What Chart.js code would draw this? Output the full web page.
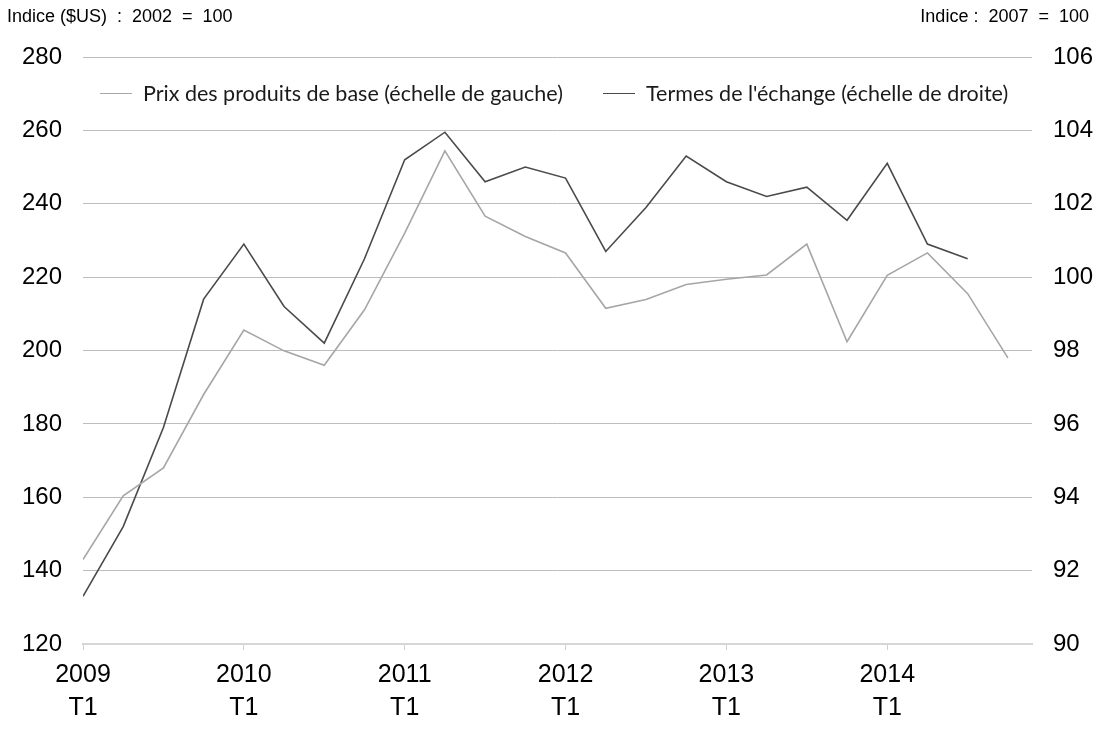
<!DOCTYPE html>
<html lang="fr">
<head>
<meta charset="utf-8">
<script src="https://cdn.jsdelivr.net/npm/chart.js@4.4.1/dist/chart.umd.min.js"></script>
<style>
    body { margin: 0; background: #ffffff; }
    #wrap { position: relative; width: 1100px; height: 733px; }
    .unit {
        position: absolute; top: 6px;
        font-family: "Liberation Sans", Arial, sans-serif;
        font-size: 18px; color: #000000; white-space: pre;
    }
    #unitLeft { left: 7px; }
    #unitRight { right: 11px; }
    .legend-item {
        position: absolute; top: 79px; height: 28px;
        display: flex; align-items: center;
        font-family: Lato, "Open Sans", sans-serif; font-size: 21.5px; color: #1a1a1a;
        white-space: nowrap;
    }
    .legend-item .swatch { width: 32px; height: 0; border-top: 1.6px solid; margin-right: 11px; }
</style>
</head>
<body>
<div id="wrap">
    <canvas id="chart" width="1100" height="733"></canvas>
    <div class="unit" id="unitLeft">Indice ($US)  :  2002  =  100</div>
    <div class="unit" id="unitRight">Indice :  2007  =  100</div>
</div>
<script>
// Quarters from 2009 T1 to 2014 T4
const quarters = [
    '2009 T1', '2009 T2', '2009 T3', '2009 T4',
    '2010 T1', '2010 T2', '2010 T3', '2010 T4',
    '2011 T1', '2011 T2', '2011 T3', '2011 T4',
    '2012 T1', '2012 T2', '2012 T3', '2012 T4',
    '2013 T1', '2013 T2', '2013 T3', '2013 T4',
    '2014 T1', '2014 T2', '2014 T3', '2014 T4'
];

// Commodity prices, left scale (index $US, 2002 = 100)
const commodityPrices = [
    143.0, 160.4, 168.0, 188.0,
    205.6, 199.9, 196.0, 211.1,
    232.0, 254.4, 236.6, 231.1,
    226.6, 211.5, 213.9, 218.0,
    219.4, 220.6, 229.0, 202.4,
    220.5, 226.6, 215.5, 198.0
];

// Terms of trade, right scale (index, 2007 = 100) - no value yet for 2014 T4
const termsOfTrade = [
    91.3, 93.2, 95.9, 99.4,
    100.9, 99.2, 98.2, 100.5,
    103.2, 103.95, 102.6, 103.0,
    102.7, 100.7, 101.9, 103.3,
    102.6, 102.2, 102.45, 101.55,
    103.1, 100.9, 100.5
];

const leftTicks = [120, 140, 160, 180, 200, 220, 240, 260, 280];
const rightTicks = [90, 92, 94, 96, 98, 100, 102, 104, 106];

const seriesLabels = [
    'Prix des produits de base (échelle de gauche)',
    "Termes de l'échange (échelle de droite)"
];
const seriesColors = ['#a6a6a6', '#4a4a4a'];

// Map a series onto the quarter index so the x axis can be linear
const toPoints = values => values.map((v, i) => ({ x: i, y: v }));

const tickFont = { family: '"Liberation Sans", Arial, sans-serif', size: 24 };

const chart = new Chart(document.getElementById('chart'), {
    type: 'line',
    data: {
        datasets: [
            {
                label: seriesLabels[0],
                data: toPoints(commodityPrices),
                borderColor: seriesColors[0],
                backgroundColor: seriesColors[0],
                borderWidth: 1.6,
                pointRadius: 0,
                tension: 0,
                yAxisID: 'y'
            },
            {
                label: seriesLabels[1],
                data: toPoints(termsOfTrade),
                borderColor: seriesColors[1],
                backgroundColor: seriesColors[1],
                borderWidth: 1.6,
                pointRadius: 0,
                tension: 0,
                yAxisID: 'y1'
            }
        ]
    },
    options: {
        responsive: false,
        animation: false,
        layout: { padding: { top: 57, left: 0, right: 0, bottom: 0 } },
        plugins: {
            tooltip: { enabled: false },
            legend: { display: false } // drawn as HTML inside the plot, see below
        },
        scales: {
            x: {
                type: 'linear',
                min: 0,
                max: 23.6,
                afterBuildTicks: scale => {
                    // one tick per year, at T1
                    scale.ticks = quarters
                        .map((q, i) => ({ value: i }))
                        .filter(t => t.value % 4 === 0);
                },
                afterFit: scale => { scale.height = 89; },
                ticks: {
                    color: '#000000',
                    padding: 9,
                    maxRotation: 0,
                    autoSkip: false,
                    font: { family: '"Liberation Sans", Arial, sans-serif', size: 25, lineHeight: 1.32 },
                    callback: value => quarters[value].split(' ')
                },
                grid: {
                    drawOnChartArea: false,
                    drawTicks: true,
                    tickLength: 6,
                    color: '#cfcfcf'
                },
                border: { display: true, color: '#d6d6d6', width: 2 }
            },
            y: {
                position: 'left',
                min: leftTicks[0],
                max: leftTicks[leftTicks.length - 1],
                afterBuildTicks: scale => { scale.ticks = leftTicks.map(v => ({ value: v })); },
                afterFit: scale => { scale.width = 83; },
                ticks: { color: '#000000', padding: 21, font: tickFont },
                grid: { color: '#bdbdbd', lineWidth: 1, drawTicks: false },
                border: { display: false }
            },
            y1: {
                position: 'right',
                min: rightTicks[0],
                max: rightTicks[rightTicks.length - 1],
                afterBuildTicks: scale => { scale.ticks = rightTicks.map(v => ({ value: v })); },
                afterFit: scale => { scale.width = 68; },
                ticks: { color: '#000000', padding: 21, font: tickFont },
                grid: { drawOnChartArea: false, drawTicks: false },
                border: { display: false }
            }
        }
    }
});

// Legend sits inside the plot area on one row, like the original
const legendLeft = [100, 603];
const wrap = document.getElementById('wrap');
chart.data.datasets.forEach((ds, i) => {
    const item = document.createElement('div');
    item.className = 'legend-item';
    item.style.left = legendLeft[i] + 'px';
    const swatch = document.createElement('span');
    swatch.className = 'swatch';
    swatch.style.borderTopColor = ds.borderColor;
    item.appendChild(swatch);
    item.appendChild(document.createTextNode(ds.label));
    wrap.appendChild(item);
});
</script>
</body>
</html>
